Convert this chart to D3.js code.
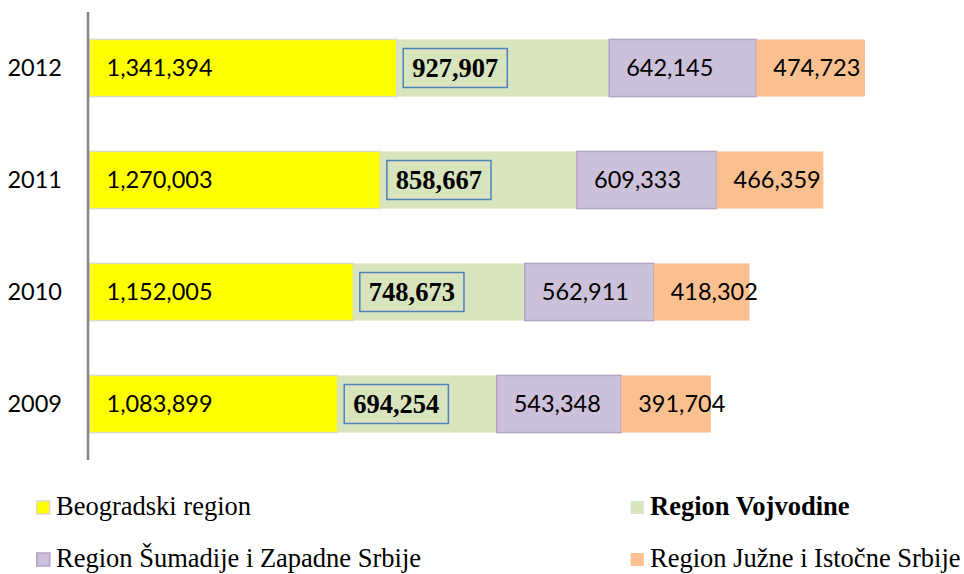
<!DOCTYPE html>
<html>
<head>
<meta charset="utf-8">
<script src="https://cdn.jsdelivr.net/npm/d3@7"></script>
<style>
  html, body { margin: 0; padding: 0; background: #fff; }
  svg { display: block; }
</style>
</head>
<body>
<svg id="chart"></svg>
<script>
// values
const years = ['2012', '2011', '2010', '2009'];
const regions = [
  'Beogradski region',
  'Region Vojvodine',
  'Region Šumadije i Zapadne Srbije',
  'Region Južne i Istočne Srbije'
];
const beogradski = [1341394, 1270003, 1152005, 1083899];
const vojvodina = [927907, 858667, 748673, 694254];
const sumadija = [642145, 609333, 562911, 543348];
const juzna = [474723, 466359, 418302, 391704];

const colors = ['#ffff00', '#d7e4bd', '#ccc1da', '#fac090'];
const strokes = ['#ddd9c3', 'none', '#b3a2c7', 'none'];

const width = 964, height = 574;
const sans = 'Lato, "Open Sans", sans-serif';
const serif = '"Liberation Serif", "Times New Roman", serif';

const svg = d3.select('#chart')
  .attr('width', width)
  .attr('height', height);

const rows = years.map((y, i) => ({
  year: y,
  [regions[0]]: beogradski[i],
  [regions[1]]: vojvodina[i],
  [regions[2]]: sumadija[i],
  [regions[3]]: juzna[i]
}));

const series = d3.stack().keys(regions)(rows);

const x = d3.scaleLinear()
  .domain([0, 3500000])
  .range([89.5, 89.5 + 3500000 * 2.2902e-4]);

const y = d3.scaleBand()
  .domain(years)
  .range([12, 460])
  .paddingInner(0.49)
  .paddingOuter(0.245);

const fmt = d3.format(',');

// bars
const layer = svg.append('g')
  .selectAll('g')
  .data(series)
  .join('g')
  .attr('fill', (d, i) => colors[i])
  .attr('stroke', (d, i) => strokes[i])
  .attr('stroke-width', 1.5);

layer.selectAll('rect')
  .data(d => d)
  .join('rect')
  .attr('x', d => x(d[0]))
  .attr('y', d => y(d.data.year))
  .attr('width', d => x(d[1]) - x(d[0]))
  .attr('height', y.bandwidth());

// y axis
const yAxis = svg.append('g')
  .attr('transform', `translate(88,0)`)
  .call(d3.axisLeft(y).tickSize(0).tickPadding(26));

yAxis.select('.domain')
  .attr('d', 'M0,12V460')
  .attr('stroke', '#868686')
  .attr('stroke-width', 2.5);

yAxis.selectAll('text')
  .attr('font-family', sans)
  .attr('font-size', 23.5)
  .attr('fill', '#000');

// labels
series.forEach((s, i) => {
  const g = svg.append('g');
  s.forEach(d => {
    const cy = y(d.data.year) + y.bandwidth() / 2;
    const x0 = x(d[0]);
    if (i === 1) {
      const t = g.append('text')
        .attr('x', x0 + 15.5)
        .attr('y', cy)
        .attr('dy', '0.34em')
        .attr('font-family', serif)
        .attr('font-weight', 'bold')
        .attr('font-size', 26.5)
        .text(fmt(d[1] - d[0]));
      const w = t.node().getComputedTextLength();
      g.insert('rect', 'text')
        .attr('x', x0 + 6.5)
        .attr('y', cy - 19.5)
        .attr('width', w + 18)
        .attr('height', 39)
        .attr('fill', 'none')
        .attr('stroke', '#4f81bd')
        .attr('stroke-width', 1.5);
    } else {
      g.append('text')
        .attr('x', x0 + 17)
        .attr('y', cy)
        .attr('dy', '0.36em')
        .attr('font-family', sans)
        .attr('font-size', 23.5)
        .text(fmt(d[1] - d[0]));
    }
  });
});

// legend
const legendPos = [[36, 515], [630, 515], [36, 567], [630, 567]];
const legend = svg.append('g')
  .selectAll('g')
  .data(regions)
  .join('g')
  .attr('transform', (d, i) => `translate(${legendPos[i][0]},${legendPos[i][1]})`);

legend.append('rect')
  .attr('x', 0.75)
  .attr('y', -14)
  .attr('width', 13)
  .attr('height', 13)
  .attr('fill', (d, i) => colors[i])
  .attr('stroke', (d, i) => i === 0 ? '#ddd9c3' : i === 2 ? '#b3a2c7' : 'none')
  .attr('stroke-width', 1.5);

legend.append('text')
  .attr('x', 20)
  .attr('font-family', serif)
  .attr('font-size', 26.5)
  .attr('font-weight', (d, i) => i === 1 ? 'bold' : 'normal')
  .text(d => d);
</script>
</body>
</html>
